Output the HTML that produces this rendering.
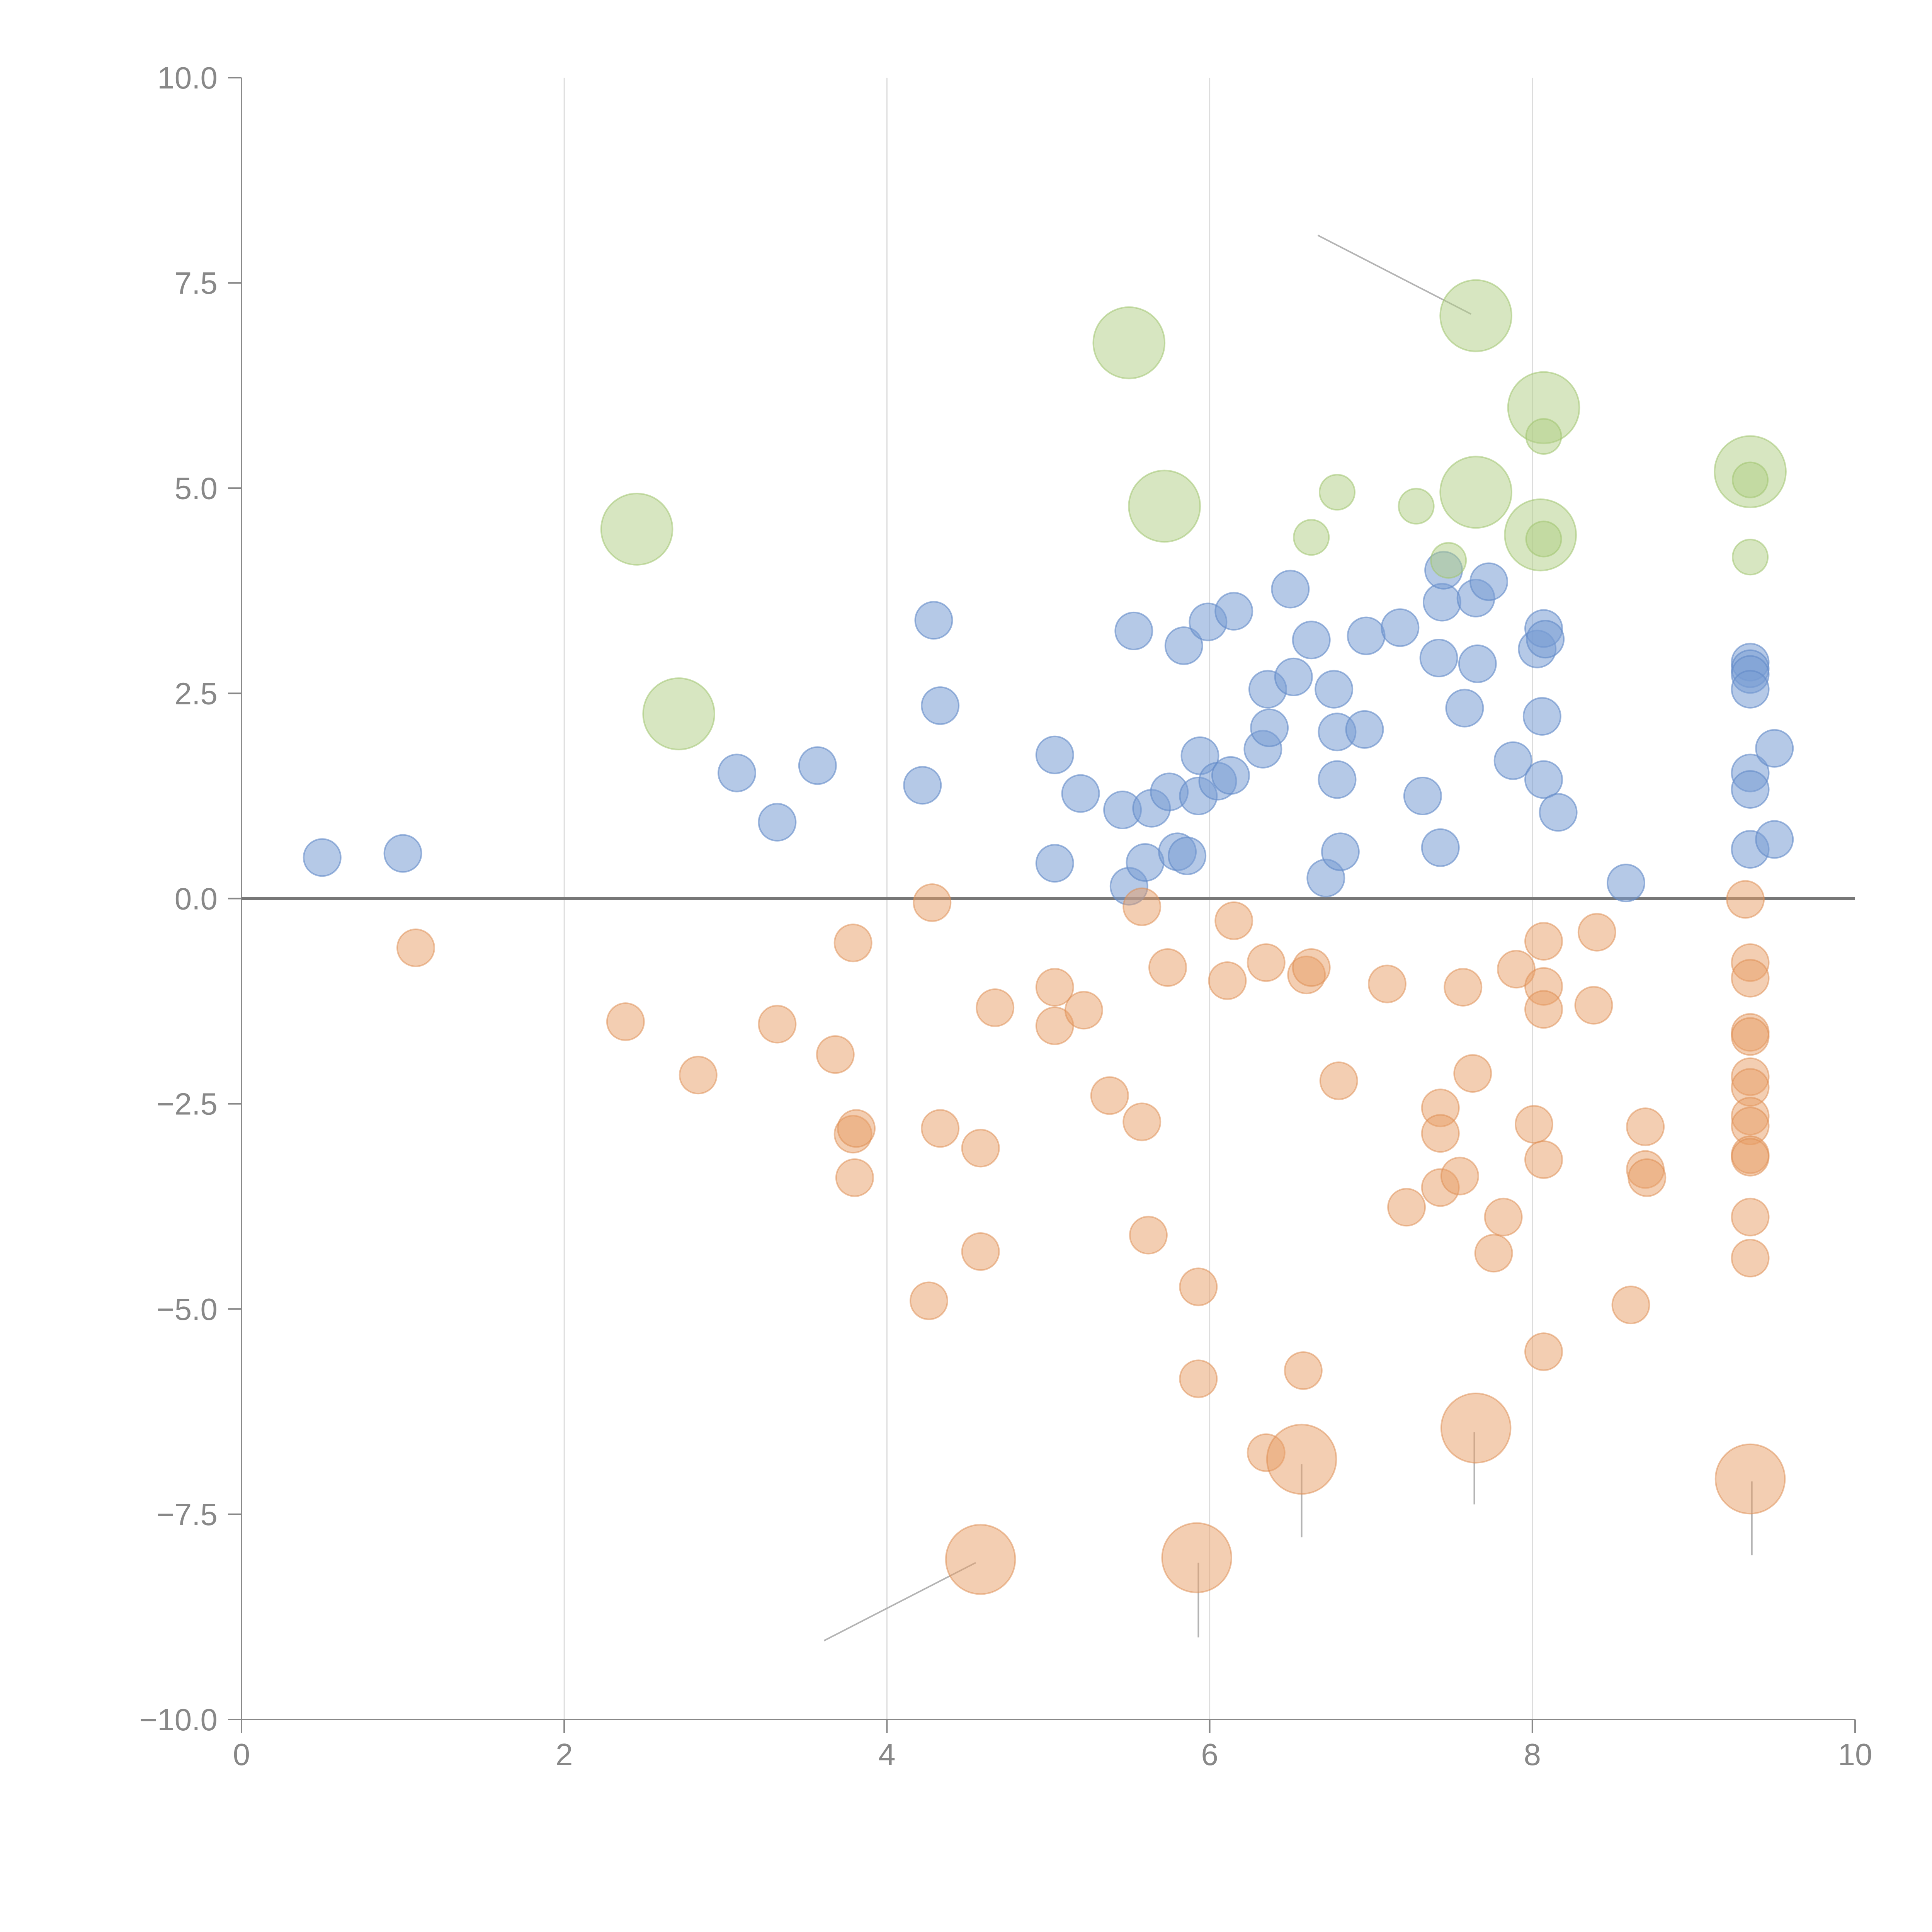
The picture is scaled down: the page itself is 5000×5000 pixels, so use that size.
<!DOCTYPE html>
<html><head><meta charset="utf-8"><style>html,body{margin:0;padding:0;background:#fff}svg{display:block}</style></head>
<body>
<svg id="chart" width="5000" height="5000" xmlns="http://www.w3.org/2000/svg" font-family="Liberation Sans, sans-serif">
<g id="grid"></g>
<g id="axes"></g>
<g id="annot"></g>
<g id="marks"></g>
</svg>
<script>
const xTicks=[0,2,4,6,8,10];
const yTicks=[-10,-7.5,-5,-2.5,0,2.5,5,7.5,10];
const yTickLabels=["\u221210.0","\u22127.5","\u22125.0","\u22122.5","0.0","2.5","5.0","7.5","10.0"];
const blueX=[0.5,1.0,3.07,3.32,3.57,4.22,4.29,4.33,5.04,5.04,5.2,5.46,5.5,5.53,5.6,5.64,5.75,5.8,5.84,5.86,5.93,5.94,5.99,6.05,6.13,6.15,6.33,6.36,6.37,6.5,6.52,6.63,6.72,6.77,6.79,6.79,6.81,6.96,6.97,7.18,7.32,7.42,7.43,7.44,7.45,7.58,7.65,7.66,7.73,7.88,8.03,8.06,8.07,8.07,8.08,8.16,8.58,9.35,9.35,9.35,9.35,9.35,9.35,9.35,9.5,9.5];
const blueY=[0.5,0.55,1.53,0.93,1.62,1.38,3.39,2.35,1.75,0.43,1.28,1.08,0.15,3.26,0.44,1.1,1.3,0.57,3.08,0.52,1.25,1.74,3.37,1.43,1.5,3.5,1.82,2.55,2.08,3.77,2.7,3.15,0.25,2.55,2.03,1.45,0.57,2.06,3.2,3.3,1.25,2.93,0.62,3.61,4.0,2.32,3.66,2.86,3.86,1.68,3.04,2.22,1.45,3.29,3.16,1.05,0.19,2.88,2.8,2.73,2.55,1.53,1.33,0.6,1.83,0.72];
const orangeX=[1.08,2.38,2.83,3.32,3.68,3.79,3.79,3.81,3.8,4.28,4.26,4.33,4.58,4.58,4.67,5.04,5.04,5.22,5.38,5.58,5.58,5.62,5.74,5.93,5.93,6.11,6.15,6.35,6.35,6.58,6.6,6.63,6.8,7.1,7.22,7.43,7.43,7.43,7.55,7.57,7.63,7.76,7.82,7.9,8.01,8.07,8.07,8.07,8.07,8.07,8.38,8.4,8.61,8.7,8.7,8.71,9.32,9.35,9.35,9.35,9.35,9.35,9.35,9.35,9.35,9.35,9.35,9.35,9.35,4.58,5.92,6.57,7.65,9.35];
const orangeY=[-0.6,-1.5,-2.15,-1.53,-1.9,-0.54,-2.87,-2.8,-3.4,-0.05,-4.9,-2.8,-3.04,-4.3,-1.33,-1.08,-1.55,-1.36,-2.4,-0.1,-2.72,-4.1,-0.84,-4.73,-5.85,-1.0,-0.27,-0.78,-6.75,-5.75,-0.93,-0.84,-2.22,-1.04,-3.76,-2.55,-2.86,-3.52,-3.38,-1.08,-2.13,-4.32,-3.88,-0.86,-2.75,-0.52,-1.07,-1.35,-3.18,-5.52,-1.3,-0.41,-4.95,-2.78,-3.3,-3.4,-0.01,-0.78,-0.97,-1.63,-1.68,-2.17,-2.3,-2.65,-2.77,-3.12,-3.15,-3.88,-4.38,-8.05,-8.03,-6.83,-6.45,-7.07];
const orangeS=[1,1,1,1,1,1,1,1,1,1,1,1,1,1,1,1,1,1,1,1,1,1,1,1,1,1,1,1,1,1,1,1,1,1,1,1,1,1,1,1,1,1,1,1,1,1,1,1,1,1,1,1,1,1,1,1,1,1,1,1,1,1,1,1,1,1,1,1,1,3.5,3.5,3.5,3.5,3.5];
const greenX=[2.45,2.71,5.5,5.72,7.65,7.65,8.07,8.05,9.35,6.63,6.79,7.28,7.48,8.07,8.07,9.35,9.35];
const greenY=[4.5,2.25,6.77,4.78,7.1,4.95,5.98,4.43,5.2,4.4,4.95,4.78,4.12,5.63,4.38,5.1,4.16];
const greenS=[3.7,3.7,3.7,3.7,3.7,3.7,3.7,3.7,3.7,0.9,0.9,0.9,0.9,0.9,0.9,0.9,0.9];
const leaderX1=[6.67,3.61,5.93,6.57,7.64,9.36];
const leaderY1=[8.08,-9.04,-9.0,-7.78,-7.38,-8.0];
const leaderX2=[7.62,4.55,5.93,6.57,7.64,9.36];
const leaderY2=[7.12,-8.09,-8.09,-6.89,-6.5,-7.1];

const NS="http://www.w3.org/2000/svg";
const X0=625,X1=4801,Y0=4450,Y1=201;
function sx(v){return X0+(v-0)/(10-0)*(X1-X0);}
function sy(v){return Y0-(v+10)/20*(Y0-Y1);}
function rad(s){return 48*Math.sqrt(s);}
function mk(tag,attrs,parent){const e=document.createElementNS(NS,tag);for(const k in attrs)e.setAttribute(k,attrs[k]);parent.appendChild(e);return e;}
const grid=document.getElementById('grid'),axes=document.getElementById('axes'),annot=document.getElementById('annot'),marks=document.getElementById('marks');

xTicks.forEach(t=>{
  if(t>0&&t<10){const g=mk('line',{x1:sx(t),x2:sx(t),y1:Y1,y2:Y0,stroke:'#dcdcdc','stroke-width':3},grid);
  
  }
  const tk=mk('line',{x1:sx(t),x2:sx(t),y1:Y0,y2:Y0+35,stroke:'#888','stroke-width':4},axes);
  
  
  const tx=mk('text',{x:sx(t),y:Y0+118,'text-anchor':'middle','font-size':80,fill:'#888'},axes);
  tx.textContent=String(t);
  
  
});
yTicks.forEach((t,i)=>{
  const tk=mk('line',{x1:X0-35,x2:X0,y1:sy(t),y2:sy(t),stroke:'#888','stroke-width':4},axes);
  
  
  const tx=mk('text',{x:X0-62,y:sy(t)+28,'text-anchor':'end','font-size':80,fill:'#888'},axes);
  tx.textContent=yTickLabels[i];
  
  
});
const ya=mk('line',{x1:X0,x2:X0,y1:Y1,y2:Y0,stroke:'#888','stroke-width':4},axes);


const xa=mk('line',{x1:X0,x2:X1,y1:Y0,y2:Y0,stroke:'#888','stroke-width':4},axes);


const zl=mk('line',{x1:X0,x2:X1,y1:sy(0),y2:sy(0),stroke:'#777','stroke-width':7},axes);



leaderX1.forEach((v,i)=>{
  const l=mk('line',{x1:sx(v),y1:sy(leaderY1[i]),x2:sx(leaderX2[i]),y2:sy(leaderY2[i]),stroke:'#b4b4b4','stroke-width':4},annot);
  
  
});

function series(xs,ys,ss,fill,stroke,name){
  xs.forEach((v,i)=>{
    const c=mk('circle',{cx:sx(v),cy:sy(ys[i]),r:rad(ss?ss[i]:1),fill:fill,stroke:stroke,'stroke-width':4},marks);
    
    
  });
}
series(blueX,blueY,null,'rgba(120,156,212,0.55)','rgba(98,138,200,0.6)','blue-bubble');
series(orangeX,orangeY,orangeS,'rgba(232,158,102,0.5)','rgba(222,140,80,0.5)','orange-bubble');
series(greenX,greenY,greenS,'rgba(176,206,132,0.5)','rgba(160,196,112,0.55)','green-bubble');
</script>
</body></html>
